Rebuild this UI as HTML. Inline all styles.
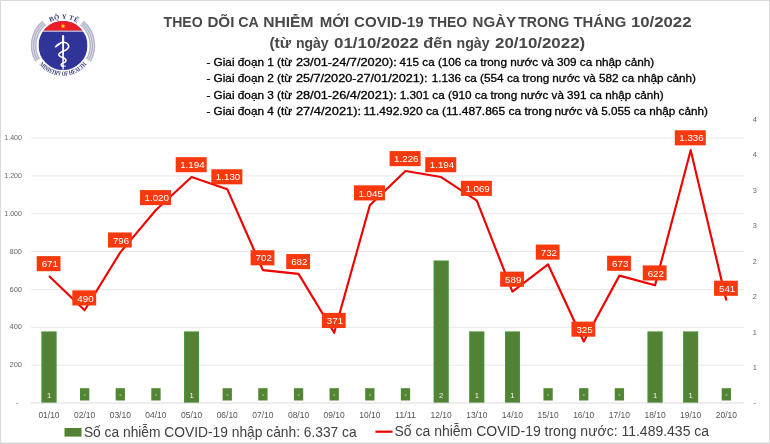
<!DOCTYPE html>
<html lang="vi"><head><meta charset="utf-8"><title>chart</title><style>html,body{margin:0;padding:0;background:#fff}svg{filter:opacity(1);will-change:transform;transform:translateZ(0)}body{width:770px;height:444px;overflow:hidden;font-family:"Liberation Sans",sans-serif}</style></head><body>
<svg width="770" height="444" viewBox="0 0 770 444" style="display:block">
<rect x="0" y="0" width="770" height="444" fill="#fff"/>
<rect x="0.5" y="0.5" width="769" height="443" fill="none" stroke="#d9d9d9" stroke-width="1"/>
<rect x="0" y="442.6" width="770" height="1.4" fill="#d2d2d2"/>
<line x1="31" x2="744" y1="403.00" y2="403.00" stroke="#dcdcdc" stroke-width="1"/>
<line x1="31" x2="744" y1="365.15" y2="365.15" stroke="#e8e8e8" stroke-width="1"/>
<line x1="31" x2="744" y1="327.30" y2="327.30" stroke="#e8e8e8" stroke-width="1"/>
<line x1="31" x2="744" y1="289.45" y2="289.45" stroke="#e8e8e8" stroke-width="1"/>
<line x1="31" x2="744" y1="251.60" y2="251.60" stroke="#e8e8e8" stroke-width="1"/>
<line x1="31" x2="744" y1="213.75" y2="213.75" stroke="#e8e8e8" stroke-width="1"/>
<line x1="31" x2="744" y1="175.90" y2="175.90" stroke="#e8e8e8" stroke-width="1"/>
<line x1="31" x2="744" y1="138.05" y2="138.05" stroke="#e8e8e8" stroke-width="1"/>
<text x="18.6" y="405.10" text-anchor="end" font-family="Liberation Sans, sans-serif" font-size="7.5" fill="#666">-</text>
<text x="22.0" y="367.25" text-anchor="end" font-family="Liberation Sans, sans-serif" font-size="7.5" fill="#666">200</text>
<text x="22.0" y="329.40" text-anchor="end" font-family="Liberation Sans, sans-serif" font-size="7.5" fill="#666">400</text>
<text x="22.0" y="291.55" text-anchor="end" font-family="Liberation Sans, sans-serif" font-size="7.5" fill="#666">600</text>
<text x="22.0" y="253.70" text-anchor="end" font-family="Liberation Sans, sans-serif" font-size="7.5" fill="#666">800</text>
<text x="22.0" y="215.85" text-anchor="end" font-family="Liberation Sans, sans-serif" font-size="7.5" fill="#666" textLength="17.7" lengthAdjust="spacingAndGlyphs">1.000</text>
<text x="22.0" y="178.00" text-anchor="end" font-family="Liberation Sans, sans-serif" font-size="7.5" fill="#666" textLength="17.7" lengthAdjust="spacingAndGlyphs">1.200</text>
<text x="22.0" y="140.15" text-anchor="end" font-family="Liberation Sans, sans-serif" font-size="7.5" fill="#666" textLength="17.7" lengthAdjust="spacingAndGlyphs">1.400</text>
<text x="754.8" y="404.80" text-anchor="middle" font-family="Liberation Sans, sans-serif" font-size="7.3" fill="#666">-</text>
<text x="754.8" y="370.35" text-anchor="middle" font-family="Liberation Sans, sans-serif" font-size="7.3" fill="#666">1</text>
<text x="754.8" y="334.80" text-anchor="middle" font-family="Liberation Sans, sans-serif" font-size="7.3" fill="#666">1</text>
<text x="754.8" y="299.25" text-anchor="middle" font-family="Liberation Sans, sans-serif" font-size="7.3" fill="#666">2</text>
<text x="754.8" y="263.70" text-anchor="middle" font-family="Liberation Sans, sans-serif" font-size="7.3" fill="#666">2</text>
<text x="754.8" y="228.15" text-anchor="middle" font-family="Liberation Sans, sans-serif" font-size="7.3" fill="#666">3</text>
<text x="754.8" y="192.60" text-anchor="middle" font-family="Liberation Sans, sans-serif" font-size="7.3" fill="#666">3</text>
<text x="754.8" y="157.05" text-anchor="middle" font-family="Liberation Sans, sans-serif" font-size="7.3" fill="#666">4</text>
<text x="754.8" y="121.50" text-anchor="middle" font-family="Liberation Sans, sans-serif" font-size="7.3" fill="#666">4</text>
<rect x="41.60" y="331.65" width="14.8" height="70.95" fill="#548235"/>
<rect x="41.60" y="331.65" width="0.9" height="70.95" fill="#3f9a3a"/>
<rect x="55.50" y="331.65" width="0.9" height="70.95" fill="#3f9a3a"/>
<rect x="41.60" y="331.65" width="14.8" height="0.8" fill="#47903a"/>
<text x="49.00" y="397.9" text-anchor="middle" font-family="Liberation Sans, sans-serif" font-size="7.6" fill="#f1f5ee">1</text>
<rect x="80.00" y="388.2" width="9.3" height="12.3" fill="#528534"/>
<rect x="83.85" y="394.6" width="1.7" height="0.9" fill="#cfdcc6"/>
<rect x="115.65" y="388.2" width="9.3" height="12.3" fill="#528534"/>
<rect x="119.50" y="394.6" width="1.7" height="0.9" fill="#cfdcc6"/>
<rect x="151.30" y="388.2" width="9.3" height="12.3" fill="#528534"/>
<rect x="155.15" y="394.6" width="1.7" height="0.9" fill="#cfdcc6"/>
<rect x="184.20" y="331.65" width="14.8" height="70.95" fill="#548235"/>
<rect x="184.20" y="331.65" width="0.9" height="70.95" fill="#3f9a3a"/>
<rect x="198.10" y="331.65" width="0.9" height="70.95" fill="#3f9a3a"/>
<rect x="184.20" y="331.65" width="14.8" height="0.8" fill="#47903a"/>
<text x="191.60" y="397.9" text-anchor="middle" font-family="Liberation Sans, sans-serif" font-size="7.6" fill="#f1f5ee">1</text>
<rect x="222.60" y="388.2" width="9.3" height="12.3" fill="#528534"/>
<rect x="226.45" y="394.6" width="1.7" height="0.9" fill="#cfdcc6"/>
<rect x="258.25" y="388.2" width="9.3" height="12.3" fill="#528534"/>
<rect x="262.10" y="394.6" width="1.7" height="0.9" fill="#cfdcc6"/>
<rect x="293.90" y="388.2" width="9.3" height="12.3" fill="#528534"/>
<rect x="297.75" y="394.6" width="1.7" height="0.9" fill="#cfdcc6"/>
<rect x="329.55" y="388.2" width="9.3" height="12.3" fill="#528534"/>
<rect x="333.40" y="394.6" width="1.7" height="0.9" fill="#cfdcc6"/>
<rect x="365.20" y="388.2" width="9.3" height="12.3" fill="#528534"/>
<rect x="369.05" y="394.6" width="1.7" height="0.9" fill="#cfdcc6"/>
<rect x="400.85" y="388.2" width="9.3" height="12.3" fill="#528534"/>
<rect x="404.70" y="394.6" width="1.7" height="0.9" fill="#cfdcc6"/>
<rect x="433.75" y="260.70" width="14.8" height="141.90" fill="#548235"/>
<rect x="433.75" y="260.70" width="0.9" height="141.90" fill="#3f9a3a"/>
<rect x="447.65" y="260.70" width="0.9" height="141.90" fill="#3f9a3a"/>
<rect x="433.75" y="260.70" width="14.8" height="0.8" fill="#47903a"/>
<text x="441.15" y="397.9" text-anchor="middle" font-family="Liberation Sans, sans-serif" font-size="7.6" fill="#f1f5ee">2</text>
<rect x="469.40" y="331.65" width="14.8" height="70.95" fill="#548235"/>
<rect x="469.40" y="331.65" width="0.9" height="70.95" fill="#3f9a3a"/>
<rect x="483.30" y="331.65" width="0.9" height="70.95" fill="#3f9a3a"/>
<rect x="469.40" y="331.65" width="14.8" height="0.8" fill="#47903a"/>
<text x="476.80" y="397.9" text-anchor="middle" font-family="Liberation Sans, sans-serif" font-size="7.6" fill="#f1f5ee">1</text>
<rect x="505.05" y="331.65" width="14.8" height="70.95" fill="#548235"/>
<rect x="505.05" y="331.65" width="0.9" height="70.95" fill="#3f9a3a"/>
<rect x="518.95" y="331.65" width="0.9" height="70.95" fill="#3f9a3a"/>
<rect x="505.05" y="331.65" width="14.8" height="0.8" fill="#47903a"/>
<text x="512.45" y="397.9" text-anchor="middle" font-family="Liberation Sans, sans-serif" font-size="7.6" fill="#f1f5ee">1</text>
<rect x="543.45" y="388.2" width="9.3" height="12.3" fill="#528534"/>
<rect x="547.30" y="394.6" width="1.7" height="0.9" fill="#cfdcc6"/>
<rect x="579.10" y="388.2" width="9.3" height="12.3" fill="#528534"/>
<rect x="582.95" y="394.6" width="1.7" height="0.9" fill="#cfdcc6"/>
<rect x="614.75" y="388.2" width="9.3" height="12.3" fill="#528534"/>
<rect x="618.60" y="394.6" width="1.7" height="0.9" fill="#cfdcc6"/>
<rect x="647.65" y="331.65" width="14.8" height="70.95" fill="#548235"/>
<rect x="647.65" y="331.65" width="0.9" height="70.95" fill="#3f9a3a"/>
<rect x="661.55" y="331.65" width="0.9" height="70.95" fill="#3f9a3a"/>
<rect x="647.65" y="331.65" width="14.8" height="0.8" fill="#47903a"/>
<text x="655.05" y="397.9" text-anchor="middle" font-family="Liberation Sans, sans-serif" font-size="7.6" fill="#f1f5ee">1</text>
<rect x="683.30" y="331.65" width="14.8" height="70.95" fill="#548235"/>
<rect x="683.30" y="331.65" width="0.9" height="70.95" fill="#3f9a3a"/>
<rect x="697.20" y="331.65" width="0.9" height="70.95" fill="#3f9a3a"/>
<rect x="683.30" y="331.65" width="14.8" height="0.8" fill="#47903a"/>
<text x="690.70" y="397.9" text-anchor="middle" font-family="Liberation Sans, sans-serif" font-size="7.6" fill="#f1f5ee">1</text>
<rect x="721.70" y="388.2" width="9.3" height="12.3" fill="#528534"/>
<rect x="725.55" y="394.6" width="1.7" height="0.9" fill="#cfdcc6"/>
<text x="49.00" y="417.5" text-anchor="middle" font-family="Liberation Sans, sans-serif" font-size="8.5" fill="#555" textLength="21.2" lengthAdjust="spacingAndGlyphs">01/10</text>
<text x="84.65" y="417.5" text-anchor="middle" font-family="Liberation Sans, sans-serif" font-size="8.5" fill="#555" textLength="21.2" lengthAdjust="spacingAndGlyphs">02/10</text>
<text x="120.30" y="417.5" text-anchor="middle" font-family="Liberation Sans, sans-serif" font-size="8.5" fill="#555" textLength="21.2" lengthAdjust="spacingAndGlyphs">03/10</text>
<text x="155.95" y="417.5" text-anchor="middle" font-family="Liberation Sans, sans-serif" font-size="8.5" fill="#555" textLength="21.2" lengthAdjust="spacingAndGlyphs">04/10</text>
<text x="191.60" y="417.5" text-anchor="middle" font-family="Liberation Sans, sans-serif" font-size="8.5" fill="#555" textLength="21.2" lengthAdjust="spacingAndGlyphs">05/10</text>
<text x="227.25" y="417.5" text-anchor="middle" font-family="Liberation Sans, sans-serif" font-size="8.5" fill="#555" textLength="21.2" lengthAdjust="spacingAndGlyphs">06/10</text>
<text x="262.90" y="417.5" text-anchor="middle" font-family="Liberation Sans, sans-serif" font-size="8.5" fill="#555" textLength="21.2" lengthAdjust="spacingAndGlyphs">07/10</text>
<text x="298.55" y="417.5" text-anchor="middle" font-family="Liberation Sans, sans-serif" font-size="8.5" fill="#555" textLength="21.2" lengthAdjust="spacingAndGlyphs">08/10</text>
<text x="334.20" y="417.5" text-anchor="middle" font-family="Liberation Sans, sans-serif" font-size="8.5" fill="#555" textLength="21.2" lengthAdjust="spacingAndGlyphs">09/10</text>
<text x="369.85" y="417.5" text-anchor="middle" font-family="Liberation Sans, sans-serif" font-size="8.5" fill="#555" textLength="21.2" lengthAdjust="spacingAndGlyphs">10/10</text>
<text x="405.50" y="417.5" text-anchor="middle" font-family="Liberation Sans, sans-serif" font-size="8.5" fill="#555" textLength="21.2" lengthAdjust="spacingAndGlyphs">11/11</text>
<text x="441.15" y="417.5" text-anchor="middle" font-family="Liberation Sans, sans-serif" font-size="8.5" fill="#555" textLength="21.2" lengthAdjust="spacingAndGlyphs">12/10</text>
<text x="476.80" y="417.5" text-anchor="middle" font-family="Liberation Sans, sans-serif" font-size="8.5" fill="#555" textLength="21.2" lengthAdjust="spacingAndGlyphs">13/10</text>
<text x="512.45" y="417.5" text-anchor="middle" font-family="Liberation Sans, sans-serif" font-size="8.5" fill="#555" textLength="21.2" lengthAdjust="spacingAndGlyphs">14/10</text>
<text x="548.10" y="417.5" text-anchor="middle" font-family="Liberation Sans, sans-serif" font-size="8.5" fill="#555" textLength="21.2" lengthAdjust="spacingAndGlyphs">15/10</text>
<text x="583.75" y="417.5" text-anchor="middle" font-family="Liberation Sans, sans-serif" font-size="8.5" fill="#555" textLength="21.2" lengthAdjust="spacingAndGlyphs">16/10</text>
<text x="619.40" y="417.5" text-anchor="middle" font-family="Liberation Sans, sans-serif" font-size="8.5" fill="#555" textLength="21.2" lengthAdjust="spacingAndGlyphs">17/10</text>
<text x="655.05" y="417.5" text-anchor="middle" font-family="Liberation Sans, sans-serif" font-size="8.5" fill="#555" textLength="21.2" lengthAdjust="spacingAndGlyphs">18/10</text>
<text x="690.70" y="417.5" text-anchor="middle" font-family="Liberation Sans, sans-serif" font-size="8.5" fill="#555" textLength="21.2" lengthAdjust="spacingAndGlyphs">19/10</text>
<text x="726.35" y="417.5" text-anchor="middle" font-family="Liberation Sans, sans-serif" font-size="8.5" fill="#555" textLength="21.2" lengthAdjust="spacingAndGlyphs">20/10</text>
<polyline points="49.00,276.01 84.65,310.27 120.30,252.36 155.95,209.97 191.60,177.04 227.25,189.15 262.90,270.15 298.55,273.93 334.20,332.79 369.85,205.23 405.50,170.98 441.15,177.04 476.80,200.69 512.45,291.53 548.10,264.47 583.75,341.49 619.40,275.63 655.05,285.29 690.70,150.16 726.35,300.62" fill="none" stroke="#f00000" stroke-width="2.15" stroke-linejoin="round" stroke-linecap="butt"/>
<rect x="36.70" y="256.11" width="23.8" height="15.1" fill="#f7390d"/>
<text x="49.80" y="267.31" text-anchor="middle" font-family="Liberation Sans, sans-serif" font-size="9.9" fill="#fff" textLength="16.3" lengthAdjust="spacingAndGlyphs">671</text>
<rect x="72.35" y="290.37" width="23.8" height="15.1" fill="#f7390d"/>
<text x="85.45" y="301.57" text-anchor="middle" font-family="Liberation Sans, sans-serif" font-size="9.9" fill="#fff" textLength="16.3" lengthAdjust="spacingAndGlyphs">490</text>
<rect x="108.00" y="232.46" width="23.8" height="15.1" fill="#f7390d"/>
<text x="121.10" y="243.66" text-anchor="middle" font-family="Liberation Sans, sans-serif" font-size="9.9" fill="#fff" textLength="16.3" lengthAdjust="spacingAndGlyphs">796</text>
<rect x="140.05" y="190.06" width="31" height="15.1" fill="#f7390d"/>
<text x="156.75" y="201.27" text-anchor="middle" font-family="Liberation Sans, sans-serif" font-size="9.9" fill="#fff" textLength="24.4" lengthAdjust="spacingAndGlyphs">1.020</text>
<rect x="175.70" y="157.14" width="31" height="15.1" fill="#f7390d"/>
<text x="192.40" y="168.34" text-anchor="middle" font-family="Liberation Sans, sans-serif" font-size="9.9" fill="#fff" textLength="24.4" lengthAdjust="spacingAndGlyphs">1.194</text>
<rect x="211.35" y="169.25" width="31" height="15.1" fill="#f7390d"/>
<text x="228.05" y="180.45" text-anchor="middle" font-family="Liberation Sans, sans-serif" font-size="9.9" fill="#fff" textLength="24.4" lengthAdjust="spacingAndGlyphs">1.130</text>
<rect x="250.60" y="250.25" width="23.8" height="15.1" fill="#f7390d"/>
<text x="263.70" y="261.45" text-anchor="middle" font-family="Liberation Sans, sans-serif" font-size="9.9" fill="#fff" textLength="16.3" lengthAdjust="spacingAndGlyphs">702</text>
<rect x="286.25" y="254.03" width="23.8" height="15.1" fill="#f7390d"/>
<text x="299.35" y="265.23" text-anchor="middle" font-family="Liberation Sans, sans-serif" font-size="9.9" fill="#fff" textLength="16.3" lengthAdjust="spacingAndGlyphs">682</text>
<rect x="321.90" y="312.89" width="23.8" height="15.1" fill="#f7390d"/>
<text x="335.00" y="324.09" text-anchor="middle" font-family="Liberation Sans, sans-serif" font-size="9.9" fill="#fff" textLength="16.3" lengthAdjust="spacingAndGlyphs">371</text>
<rect x="353.95" y="185.33" width="31" height="15.1" fill="#f7390d"/>
<text x="370.65" y="196.53" text-anchor="middle" font-family="Liberation Sans, sans-serif" font-size="9.9" fill="#fff" textLength="24.4" lengthAdjust="spacingAndGlyphs">1.045</text>
<rect x="389.60" y="151.08" width="31" height="15.1" fill="#f7390d"/>
<text x="406.30" y="162.28" text-anchor="middle" font-family="Liberation Sans, sans-serif" font-size="9.9" fill="#fff" textLength="24.4" lengthAdjust="spacingAndGlyphs">1.226</text>
<rect x="425.25" y="157.14" width="31" height="15.1" fill="#f7390d"/>
<text x="441.95" y="168.34" text-anchor="middle" font-family="Liberation Sans, sans-serif" font-size="9.9" fill="#fff" textLength="24.4" lengthAdjust="spacingAndGlyphs">1.194</text>
<rect x="460.90" y="180.79" width="31" height="15.1" fill="#f7390d"/>
<text x="477.60" y="191.99" text-anchor="middle" font-family="Liberation Sans, sans-serif" font-size="9.9" fill="#fff" textLength="24.4" lengthAdjust="spacingAndGlyphs">1.069</text>
<rect x="500.15" y="271.63" width="23.8" height="15.1" fill="#f7390d"/>
<text x="513.25" y="282.83" text-anchor="middle" font-family="Liberation Sans, sans-serif" font-size="9.9" fill="#fff" textLength="16.3" lengthAdjust="spacingAndGlyphs">589</text>
<rect x="535.80" y="244.57" width="23.8" height="15.1" fill="#f7390d"/>
<text x="548.90" y="255.77" text-anchor="middle" font-family="Liberation Sans, sans-serif" font-size="9.9" fill="#fff" textLength="16.3" lengthAdjust="spacingAndGlyphs">732</text>
<rect x="571.45" y="321.59" width="23.8" height="15.1" fill="#f7390d"/>
<text x="584.55" y="332.79" text-anchor="middle" font-family="Liberation Sans, sans-serif" font-size="9.9" fill="#fff" textLength="16.3" lengthAdjust="spacingAndGlyphs">325</text>
<rect x="607.10" y="255.73" width="23.8" height="15.1" fill="#f7390d"/>
<text x="620.20" y="266.93" text-anchor="middle" font-family="Liberation Sans, sans-serif" font-size="9.9" fill="#fff" textLength="16.3" lengthAdjust="spacingAndGlyphs">673</text>
<rect x="642.75" y="265.39" width="23.8" height="15.1" fill="#f7390d"/>
<text x="655.85" y="276.59" text-anchor="middle" font-family="Liberation Sans, sans-serif" font-size="9.9" fill="#fff" textLength="16.3" lengthAdjust="spacingAndGlyphs">622</text>
<rect x="674.80" y="130.26" width="31" height="15.1" fill="#f7390d"/>
<text x="691.50" y="141.46" text-anchor="middle" font-family="Liberation Sans, sans-serif" font-size="9.9" fill="#fff" textLength="24.4" lengthAdjust="spacingAndGlyphs">1.336</text>
<rect x="714.05" y="280.72" width="23.8" height="15.1" fill="#f7390d"/>
<text x="727.15" y="291.92" text-anchor="middle" font-family="Liberation Sans, sans-serif" font-size="9.9" fill="#fff" textLength="16.3" lengthAdjust="spacingAndGlyphs">541</text>
<text x="163.60" y="27.10" font-family="Liberation Sans, sans-serif" font-size="14.7" font-weight="bold" fill="#484848" textLength="39.10" lengthAdjust="spacingAndGlyphs">THEO</text>
<text x="207.40" y="27.10" font-family="Liberation Sans, sans-serif" font-size="14.7" font-weight="bold" fill="#484848" textLength="27.00" lengthAdjust="spacingAndGlyphs">DÕI</text>
<text x="238.20" y="27.10" font-family="Liberation Sans, sans-serif" font-size="14.7" font-weight="bold" fill="#484848" textLength="20.50" lengthAdjust="spacingAndGlyphs">CA</text>
<text x="263.20" y="27.10" font-family="Liberation Sans, sans-serif" font-size="14.7" font-weight="bold" fill="#484848" textLength="50.30" lengthAdjust="spacingAndGlyphs">NHIỄM</text>
<text x="319.70" y="27.10" font-family="Liberation Sans, sans-serif" font-size="14.7" font-weight="bold" fill="#484848" textLength="29.50" lengthAdjust="spacingAndGlyphs">MỚI</text>
<text x="354.10" y="27.10" font-family="Liberation Sans, sans-serif" font-size="14.7" font-weight="bold" fill="#484848" textLength="69.50" lengthAdjust="spacingAndGlyphs">COVID-19</text>
<text x="428.40" y="27.10" font-family="Liberation Sans, sans-serif" font-size="14.7" font-weight="bold" fill="#484848" textLength="38.80" lengthAdjust="spacingAndGlyphs">THEO</text>
<text x="472.50" y="27.10" font-family="Liberation Sans, sans-serif" font-size="14.7" font-weight="bold" fill="#484848" textLength="43.60" lengthAdjust="spacingAndGlyphs">NGÀY</text>
<text x="518.20" y="27.10" font-family="Liberation Sans, sans-serif" font-size="14.7" font-weight="bold" fill="#484848" textLength="51.10" lengthAdjust="spacingAndGlyphs">TRONG</text>
<text x="573.40" y="27.10" font-family="Liberation Sans, sans-serif" font-size="14.7" font-weight="bold" fill="#484848" textLength="52.80" lengthAdjust="spacingAndGlyphs">THÁNG</text>
<text x="630.90" y="27.10" font-family="Liberation Sans, sans-serif" font-size="14.7" font-weight="bold" fill="#484848" textLength="60.60" lengthAdjust="spacingAndGlyphs">10/2022</text>
<text x="269.40" y="47.90" font-family="Liberation Sans, sans-serif" font-size="14.7" font-weight="bold" fill="#484848" textLength="21.80" lengthAdjust="spacingAndGlyphs">(từ</text>
<text x="295.90" y="47.90" font-family="Liberation Sans, sans-serif" font-size="14.7" font-weight="bold" fill="#484848" textLength="32.80" lengthAdjust="spacingAndGlyphs">ngày</text>
<text x="334.00" y="47.90" font-family="Liberation Sans, sans-serif" font-size="14.7" font-weight="bold" fill="#484848" textLength="84.70" lengthAdjust="spacingAndGlyphs">01/10/2022</text>
<text x="423.20" y="47.90" font-family="Liberation Sans, sans-serif" font-size="14.7" font-weight="bold" fill="#484848" textLength="29.00" lengthAdjust="spacingAndGlyphs">đến</text>
<text x="456.50" y="47.90" font-family="Liberation Sans, sans-serif" font-size="14.7" font-weight="bold" fill="#484848" textLength="33.00" lengthAdjust="spacingAndGlyphs">ngày</text>
<text x="495.00" y="47.90" font-family="Liberation Sans, sans-serif" font-size="14.7" font-weight="bold" fill="#484848" textLength="90.20" lengthAdjust="spacingAndGlyphs">20/10/2022)</text>
<text x="206.40" y="66.20" font-family="Liberation Sans, sans-serif" font-size="11.1" fill="#000" stroke="#000" stroke-width="0.3" textLength="85.80" lengthAdjust="spacingAndGlyphs">- Giai đoạn 1 (từ</text>
<text x="295.90" y="66.20" font-family="Liberation Sans, sans-serif" font-size="11.1" fill="#000" stroke="#000" stroke-width="0.3" textLength="100.80" lengthAdjust="spacingAndGlyphs">23/01-24/7/2020):</text>
<text x="399.50" y="66.20" font-family="Liberation Sans, sans-serif" font-size="11.1" fill="#000" stroke="#000" stroke-width="0.3" textLength="107.40" lengthAdjust="spacingAndGlyphs">415 ca (106 ca trong</text>
<text x="510.20" y="66.20" font-family="Liberation Sans, sans-serif" font-size="11.1" fill="#000" stroke="#000" stroke-width="0.3" textLength="144.00" lengthAdjust="spacingAndGlyphs">nước và 309 ca nhập cảnh)</text>
<text x="206.40" y="82.35" font-family="Liberation Sans, sans-serif" font-size="11.1" fill="#000" stroke="#000" stroke-width="0.3" textLength="85.80" lengthAdjust="spacingAndGlyphs">- Giai đoạn 2 (từ</text>
<text x="295.90" y="82.35" font-family="Liberation Sans, sans-serif" font-size="11.1" fill="#000" stroke="#000" stroke-width="0.3" textLength="131.70" lengthAdjust="spacingAndGlyphs">25/7/2020-27/01/2021):</text>
<text x="431.70" y="82.35" font-family="Liberation Sans, sans-serif" font-size="11.1" fill="#000" stroke="#000" stroke-width="0.3" textLength="117.70" lengthAdjust="spacingAndGlyphs">1.136 ca (554 ca trong</text>
<text x="552.30" y="82.35" font-family="Liberation Sans, sans-serif" font-size="11.1" fill="#000" stroke="#000" stroke-width="0.3" textLength="143.70" lengthAdjust="spacingAndGlyphs">nước và 582 ca nhập cảnh)</text>
<text x="206.40" y="98.50" font-family="Liberation Sans, sans-serif" font-size="11.1" fill="#000" stroke="#000" stroke-width="0.3" textLength="85.80" lengthAdjust="spacingAndGlyphs">- Giai đoạn 3 (từ</text>
<text x="295.90" y="98.50" font-family="Liberation Sans, sans-serif" font-size="11.1" fill="#000" stroke="#000" stroke-width="0.3" textLength="100.80" lengthAdjust="spacingAndGlyphs">28/01-26/4/2021):</text>
<text x="399.70" y="98.50" font-family="Liberation Sans, sans-serif" font-size="11.1" fill="#000" stroke="#000" stroke-width="0.3" textLength="117.50" lengthAdjust="spacingAndGlyphs">1.301 ca (910 ca trong</text>
<text x="520.60" y="98.50" font-family="Liberation Sans, sans-serif" font-size="11.1" fill="#000" stroke="#000" stroke-width="0.3" textLength="143.00" lengthAdjust="spacingAndGlyphs">nước và 391 ca nhập cảnh)</text>
<text x="206.40" y="114.65" font-family="Liberation Sans, sans-serif" font-size="11.1" fill="#000" stroke="#000" stroke-width="0.3" textLength="85.80" lengthAdjust="spacingAndGlyphs">- Giai đoạn 4 (từ</text>
<text x="295.90" y="114.65" font-family="Liberation Sans, sans-serif" font-size="11.1" fill="#000" stroke="#000" stroke-width="0.3" textLength="65.20" lengthAdjust="spacingAndGlyphs">27/4/2021):</text>
<text x="363.60" y="114.65" font-family="Liberation Sans, sans-serif" font-size="11.1" fill="#000" stroke="#000" stroke-width="0.3" textLength="188.20" lengthAdjust="spacingAndGlyphs">11.492.920 ca (11.487.865 ca trong</text>
<text x="554.50" y="114.65" font-family="Liberation Sans, sans-serif" font-size="11.1" fill="#000" stroke="#000" stroke-width="0.3" textLength="153.40" lengthAdjust="spacingAndGlyphs">nước và 5.055 ca nhập cảnh)</text>
<rect x="64.5" y="428" width="17" height="8.6" fill="#548235"/>
<text x="83.9" y="436.6" font-family="Liberation Sans, sans-serif" font-size="14.1" fill="#404040" textLength="272.8" lengthAdjust="spacingAndGlyphs">Số ca nhiễm COVID-19 nhập cảnh: 6.337 ca</text>
<line x1="375.4" x2="392.5" y1="431.7" y2="431.7" stroke="#f00000" stroke-width="2.2"/>
<text x="394.5" y="436.4" font-family="Liberation Sans, sans-serif" font-size="14" fill="#404040" textLength="314.6" lengthAdjust="spacingAndGlyphs">Số ca nhiễm COVID-19 trong nước: 11.489.435 ca</text>
<g id="logo">
<path d="M81.90 22.98A29.4 29.4 0 0 1 88.46 60.20" fill="none" stroke="#e3e4ec" stroke-width="5.4"/>
<path d="M44.10 22.98A29.4 29.4 0 0 0 37.54 60.20" fill="none" stroke="#e3e4ec" stroke-width="5.4"/>
<path d="M80.55 24.59A27.3 27.3 0 0 1 86.64 59.15" fill="none" stroke="#b2b4c8" stroke-width="1.35"/>
<path d="M45.45 24.59A27.3 27.3 0 0 0 39.36 59.15" fill="none" stroke="#b2b4c8" stroke-width="1.35"/>
<path d="M81.90 22.98A29.4 29.4 0 0 1 88.46 60.20" fill="none" stroke="#b2b4c8" stroke-width="1.35"/>
<path d="M44.10 22.98A29.4 29.4 0 0 0 37.54 60.20" fill="none" stroke="#b2b4c8" stroke-width="1.35"/>
<path d="M83.25 21.37A31.5 31.5 0 0 1 90.28 61.25" fill="none" stroke="#b2b4c8" stroke-width="1.35"/>
<path d="M42.75 21.37A31.5 31.5 0 0 0 35.72 61.25" fill="none" stroke="#b2b4c8" stroke-width="1.35"/>
<clipPath id="lc"><circle cx="63.0" cy="45.5" r="24.5"/></clipPath>
<g clip-path="url(#lc)">
<rect x="38.5" y="21.0" width="49.0" height="49.0" fill="#303398"/>
<rect x="38.5" y="21.0" width="49.0" height="9.70" fill="#ee1c25"/>
<rect x="38.5" y="30.6" width="49.0" height="1.1" fill="#e9d5e0"/>
</g>
<polygon points="63.10,23.50 63.72,25.25 65.57,25.30 64.10,26.42 64.63,28.20 63.10,27.15 61.57,28.20 62.10,26.42 60.63,25.30 62.48,25.25" fill="#ffe600"/>
<path d="M62.0 36.3Q61.9 34.9 63.1 34.9Q64.3 34.9 64.2 36.3L63.75 69.6H62.45Z" fill="#fff"/>
<rect x="61.2" y="65.6" width="4.6" height="0.9" fill="#fff"/>
<path d="M60.3 43.2C62 41.6 66 42 68 44.2C69.6 46.2 68.4 48.6 65.5 50.2C62.5 51.6 59 52.6 58.8 54.6C58.7 56.4 61.5 57 63.8 58C66 59 66.6 60.6 65.3 61.8C64 62.8 61.4 63.4 61.2 64.6C61.1 65.4 62 65.9 62.8 66" fill="none" stroke="#fff" stroke-width="1.6" stroke-linecap="round"/>
<path d="M54.6 47.8C55.2 45 57.8 42.8 60.8 42.7C60.2 45.2 57.6 46.6 54.6 47.8Z" fill="#fff"/>
<path id="tp" d="M47.36 23.98A26.6 26.6 0 0 1 80.10 25.12" fill="none"/>
<text font-family="Liberation Serif, serif" font-size="6.7" font-weight="bold" fill="#2f3474" text-anchor="middle" letter-spacing="0.3"><textPath href="#tp" startOffset="50%">BỘ Y TẾ</textPath></text>
<path id="bp" d="M36.76 60.65A30.3 30.3 0 0 0 89.24 60.65" fill="none"/>
<text font-family="Liberation Serif, serif" font-size="6.4" font-weight="bold" fill="#2f3474" text-anchor="middle"><textPath href="#bp" startOffset="50%" textLength="54" lengthAdjust="spacingAndGlyphs">MINISTRY OF HEALTH</textPath></text>
</g>
</svg>
</body></html>
